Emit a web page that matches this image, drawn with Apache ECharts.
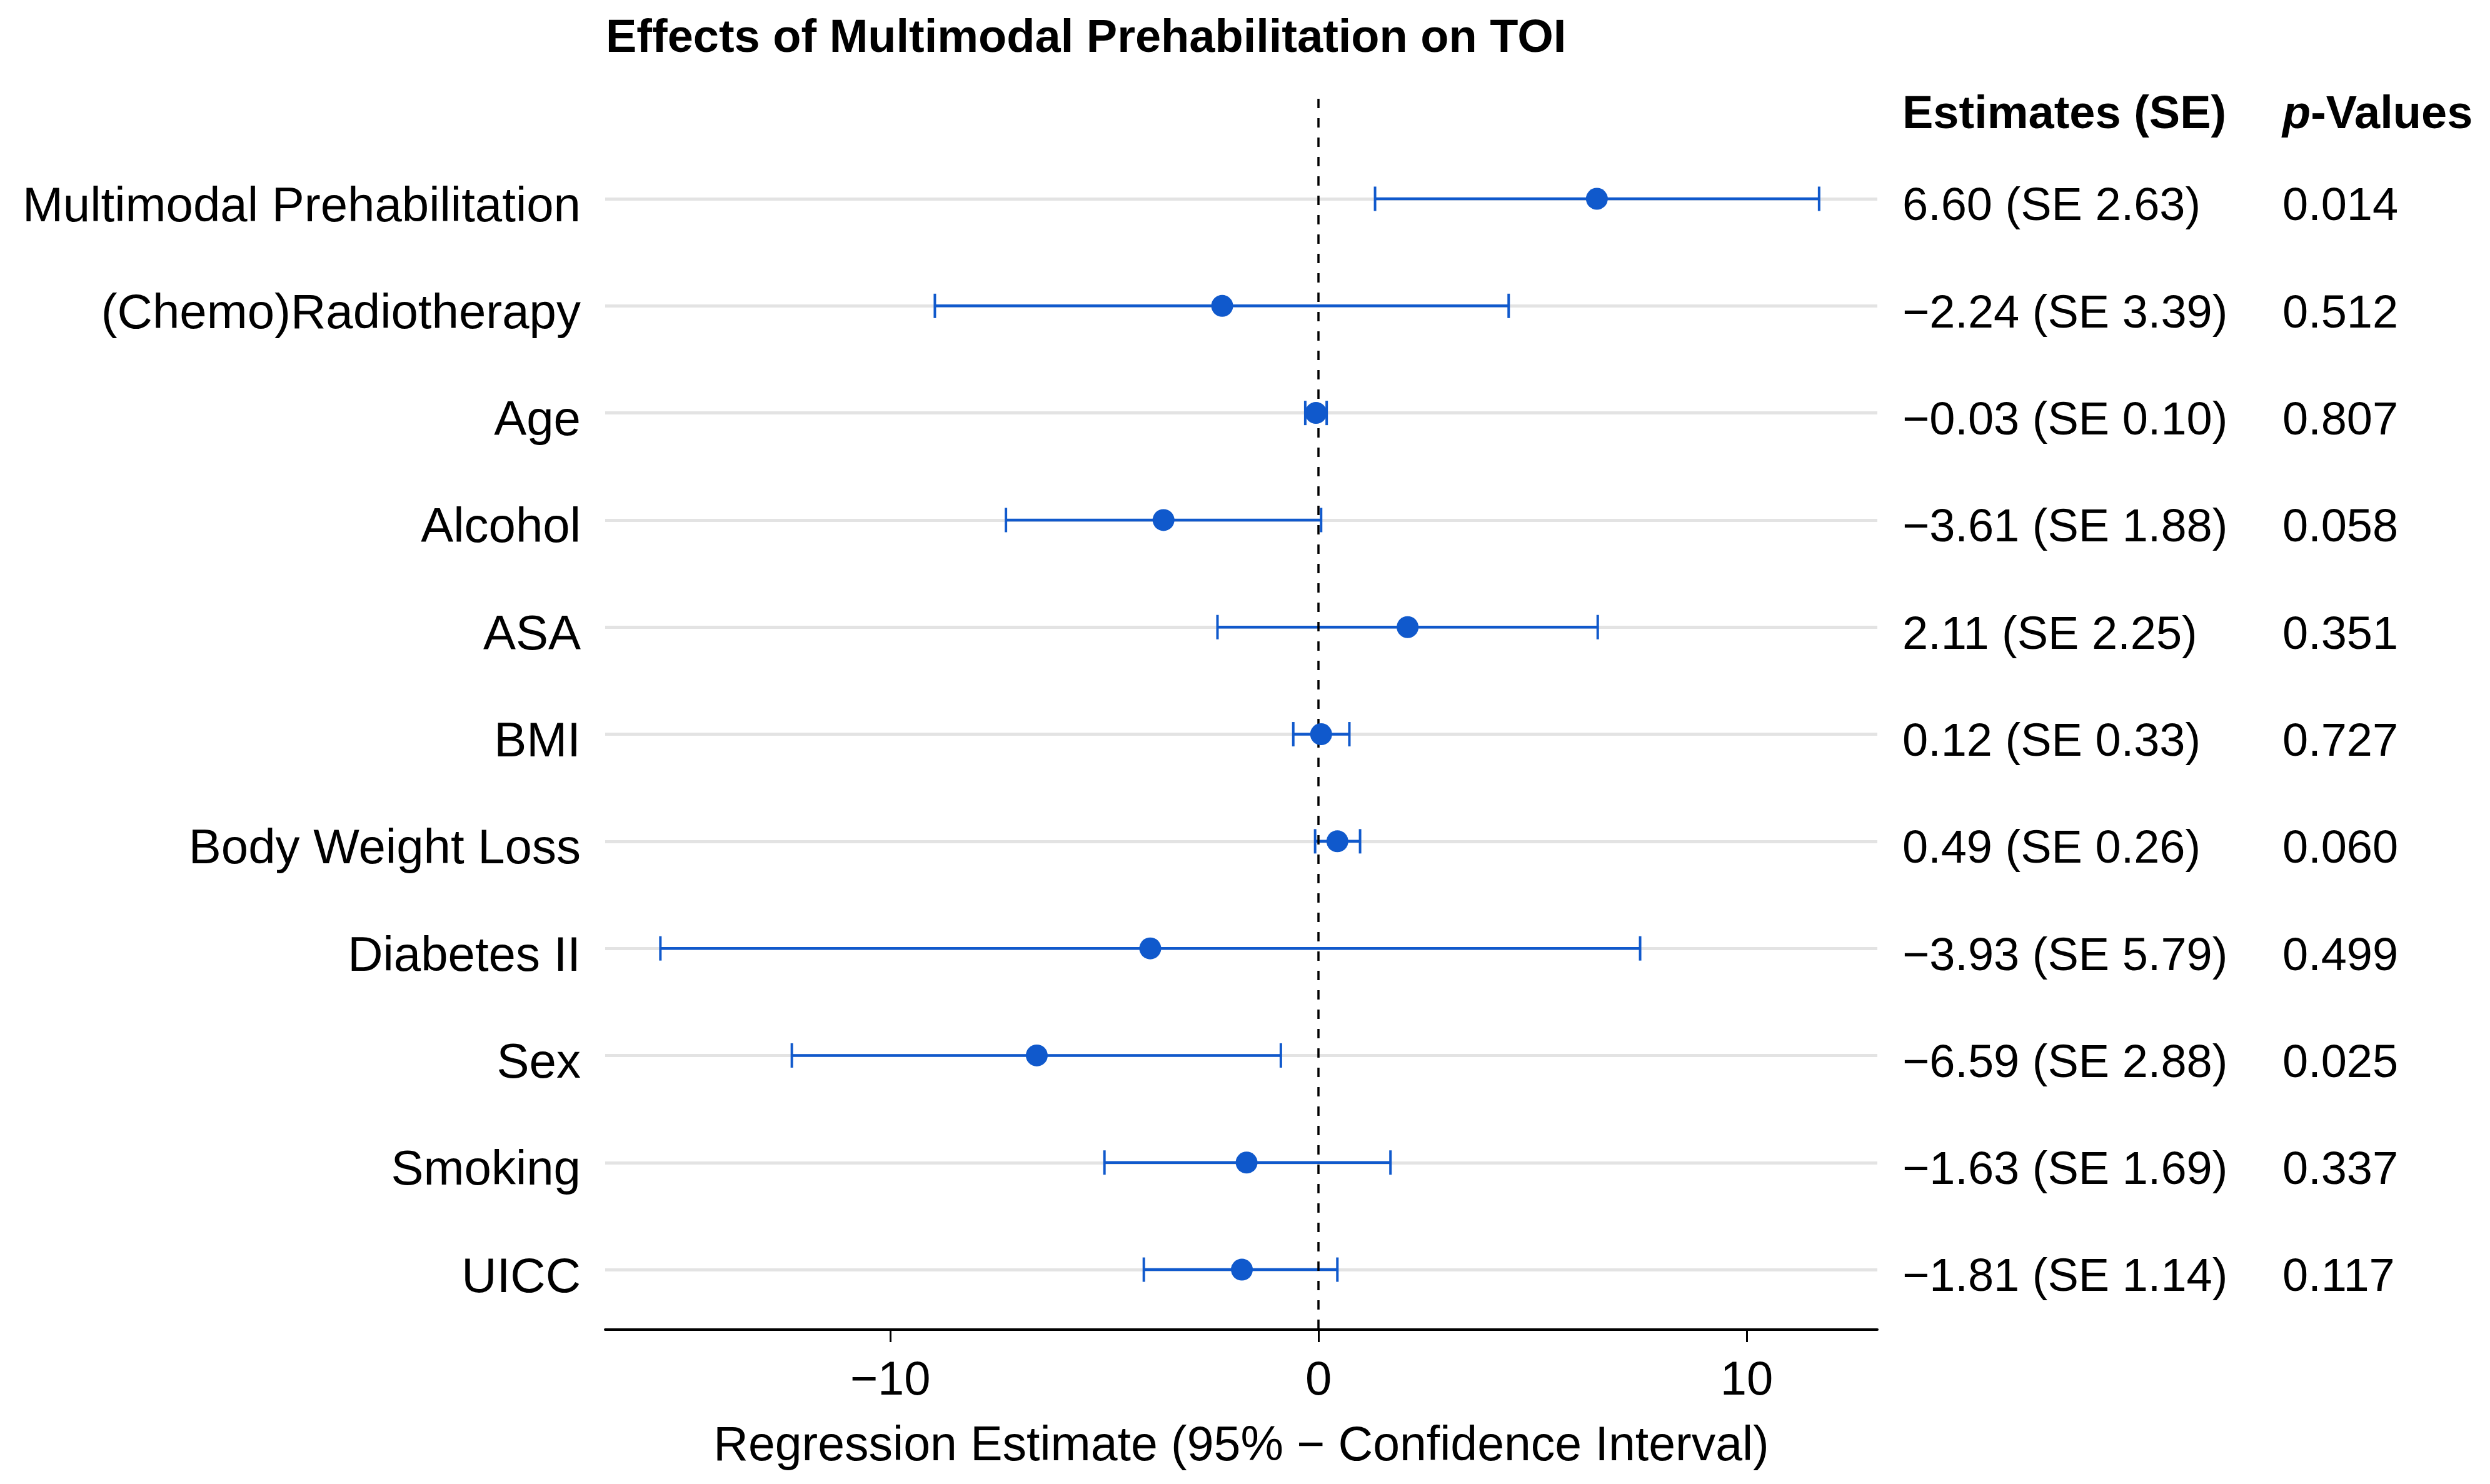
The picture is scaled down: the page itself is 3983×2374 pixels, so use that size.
<!DOCTYPE html>
<html>
<head>
<meta charset="utf-8">
<title>Effects of Multimodal Prehabilitation on TOI</title>
<script src="https://cdn.jsdelivr.net/npm/echarts@6.0.0/dist/echarts.min.js"></script>
<style>
  html, body { margin: 0; padding: 0; background: #fff; }
  #chart { width: 3983px; height: 2374px; }
</style>
</head>
<body>
<div id="chart"></div>
<script>
// rows, top to bottom
const categories = ['Multimodal Prehabilitation', '(Chemo)Radiotherapy', 'Age', 'Alcohol', 'ASA', 'BMI',
  'Body Weight Loss', 'Diabetes II', 'Sex', 'Smoking', 'UICC'];
const rowIndex = [1, 2, 3, 4, 5, 6, 7, 8, 9, 10, 11];

// point estimates and 95% CI bounds
const estimates = [6.50, -2.25, -0.06, -3.62, 2.08, 0.06, 0.44, -3.93, -6.58, -1.68, -1.79];
const lower = [1.32, -8.96, -0.31, -7.30, -2.36, -0.59, -0.08, -15.37, -12.30, -5.00, -4.08];
const upper = [11.69, 4.44, 0.19, 0.06, 6.52, 0.72, 0.97, 7.51, -0.88, 1.68, 0.44];

// table columns on the right
const estimateText = ['6.60 (SE 2.63)', '−2.24 (SE 3.39)', '−0.03 (SE 0.10)', '−3.61 (SE 1.88)', '2.11 (SE 2.25)',
  '0.12 (SE 0.33)', '0.49 (SE 0.26)', '−3.93 (SE 5.79)', '−6.59 (SE 2.88)', '−1.63 (SE 1.69)', '−1.81 (SE 1.14)'];
const pValues = ['0.014', '0.512', '0.807', '0.058', '0.351', '0.727', '0.060', '0.499', '0.025', '0.337', '0.117'];

const xTicks = [-10, 0, 10];

const FONT = "'Liberation Sans', Arial, sans-serif";
const BLUE = '#1059cc';

const chart = echarts.init(document.getElementById('chart'));

const yBase = {
  type: 'value',
  min: 0.066,
  max: 11.56,
  inverse: true,
  axisLine: { show: false },
  axisTick: { show: false },
  splitLine: { show: false }
};

// row labels sit a little below the row line, as in the original
const rowLabel = { customValues: rowIndex, fontFamily: FONT, color: '#000', verticalAlign: 'top', lineHeight: 28 };

const option = {
  backgroundColor: '#fff',
  animation: false,
  grid: { left: 968, right: 980, top: 158, bottom: 247 },
  graphic: [
    {
      type: 'text', x: 969, y: 63,
      style: { text: 'Effects of Multimodal Prehabilitation on TOI', font: 'bold 74px ' + FONT, fill: '#000', verticalAlign: 'middle' }
    },
    {
      type: 'text', x: 3043, y: 185,
      style: { text: 'Estimates (SE)', font: 'bold 74px ' + FONT, fill: '#000', verticalAlign: 'middle' }
    },
    {
      type: 'text', x: 3651, y: 185,
      style: {
        text: '{i|p}-Values', font: 'bold 74px ' + FONT, fill: '#000', verticalAlign: 'middle',
        rich: { i: { fontStyle: 'italic', fontWeight: 'bold', fontSize: 74, fontFamily: FONT } }
      }
    }
  ],
  xAxis: {
    type: 'value',
    min: -16.66,
    max: 13.05,
    name: 'Regression Estimate (95% − Confidence Interval)',
    nameLocation: 'middle',
    nameGap: 149,
    nameTextStyle: { fontSize: 77, fontFamily: FONT, color: '#000' },
    axisLine: { show: true, lineStyle: { color: '#000', width: 4 } },
    axisTick: { show: true, customValues: xTicks, length: 20, lineStyle: { color: '#000', width: 3 } },
    axisLabel: {
      customValues: xTicks,
      margin: 45,
      fontSize: 76,
      fontFamily: FONT,
      color: '#000',
      formatter: v => String(v).replace('-', '−')
    },
    splitLine: { show: false }
  },
  yAxis: [
    Object.assign({}, yBase, {
      position: 'left',
      axisLabel: Object.assign({}, rowLabel, {
        margin: 39, fontSize: 78,
        formatter: v => categories[v - 1]
      })
    }),
    Object.assign({}, yBase, {
      position: 'right',
      axisLabel: Object.assign({}, rowLabel, {
        margin: 40, fontSize: 74, align: 'left',
        formatter: v => estimateText[v - 1]
      })
    }),
    Object.assign({}, yBase, {
      position: 'right',
      offset: 608,
      axisLabel: Object.assign({}, rowLabel, {
        margin: 40, fontSize: 74, align: 'left',
        formatter: v => pValues[v - 1]
      })
    })
  ],
  series: [
    {
      // grey row guide lines
      type: 'line',
      data: [],
      z: 1,
      markLine: {
        silent: true,
        z: 1,
        symbol: 'none',
        label: { show: false },
        lineStyle: { color: '#e3e3e3', width: 5, type: 'solid' },
        data: rowIndex.map(r => ({ yAxis: r }))
      }
    },
    {
      type: 'custom',
      z: 2,
      data: rowIndex.map((r, i) => [lower[i], upper[i], r]),
      encode: { x: [0, 1], y: 2 },
      renderItem: function (params, api) {
        const lo = api.coord([api.value(0), api.value(2)]);
        const hi = api.coord([api.value(1), api.value(2)]);
        const h = 19.5;
        return {
          type: 'group',
          children: [
            { type: 'line', shape: { x1: lo[0], y1: lo[1], x2: hi[0], y2: hi[1] }, style: { stroke: BLUE, lineWidth: 4.5 } },
            { type: 'line', shape: { x1: lo[0], y1: lo[1] - h, x2: lo[0], y2: lo[1] + h }, style: { stroke: BLUE, lineWidth: 4 } },
            { type: 'line', shape: { x1: hi[0], y1: hi[1] - h, x2: hi[0], y2: hi[1] + h }, style: { stroke: BLUE, lineWidth: 4 } }
          ]
        };
      }
    },
    {
      // zero reference line
      type: 'line',
      data: [],
      z: 3,
      markLine: {
        silent: true,
        z: 3,
        symbol: 'none',
        label: { show: false },
        lineStyle: { color: '#000', width: 3.5, type: [15, 16] },
        data: [{ xAxis: 0 }]
      }
    },
    {
      type: 'scatter',
      z: 4,
      symbol: 'circle',
      symbolSize: 35,
      itemStyle: { color: BLUE, opacity: 1 },
      data: rowIndex.map((r, i) => [estimates[i], r])
    }
  ]
};

chart.setOption(option);
</script>
</body>
</html>
